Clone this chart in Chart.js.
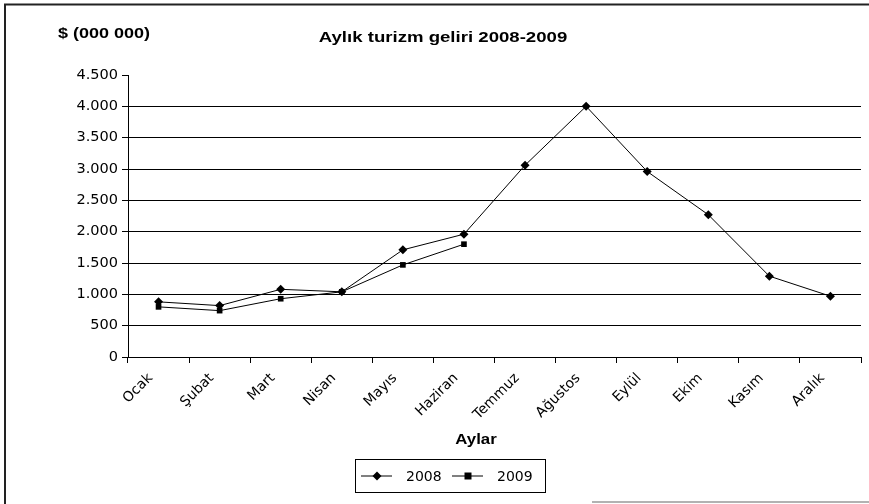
<!DOCTYPE html>
<html>
<head>
<meta charset="utf-8">
<script src="https://cdn.jsdelivr.net/npm/chart.js@4/dist/chart.umd.min.js"></script>
<style>
  html, body { margin: 0; padding: 0; background: #fff; }
  #wrap { width: 869px; height: 504px; }
</style>
</head>
<body>
<div id="wrap"><canvas id="c" width="869" height="504"></canvas></div>
<script>
// Monthly tourism revenue, $ (000 000)
const months = ['Ocak', 'Şubat', 'Mart', 'Nisan', 'Mayıs', 'Haziran', 'Temmuz', 'Ağustos', 'Eylül', 'Ekim', 'Kasım', 'Aralık'];
const revenue2008 = [880, 820, 1080, 1040, 1710, 1960, 3060, 4000, 2960, 2270, 1290, 970];
const revenue2009 = [800, 740, 930, 1040, 1470, 1800, null, null, null, null, null, null];
const seriesNames = ['2008', '2009'];
const yTicks = [0, 500, 1000, 1500, 2000, 2500, 3000, 3500, 4000, 4500];

const chartTitle = 'Aylık turizm geliri 2008-2009';
const unitLabel = '$ (000 000)';
const xTitle = 'Aylar';

const fmt = v => v.toLocaleString('de-DE');

// bold headings are drawn slightly widened
function wideText(ctx, text, x, y, align, font) {
  ctx.save();
  ctx.font = font;
  ctx.textAlign = align;
  ctx.textBaseline = 'middle';
  ctx.translate(x, y);
  ctx.scale(1.2, 1);
  ctx.fillText(text, 0, 0);
  ctx.restore();
}

// Frame, headings, axis title and the boxed legend
const decorations = {
  id: 'decorations',
  beforeDraw(chart) {
    const ctx = chart.ctx;
    ctx.save();
    ctx.fillStyle = '#fff';
    ctx.fillRect(0, 0, chart.width, chart.height);
    ctx.restore();
  },
  afterDraw(chart) {
    const ctx = chart.ctx;
    ctx.save();
    // outer frame
    ctx.strokeStyle = '#222';
    ctx.lineWidth = 2;
    ctx.beginPath();
    ctx.moveTo(5, 504); ctx.lineTo(5, 4.5); ctx.lineTo(869, 4.5);
    ctx.stroke();
    ctx.strokeStyle = '#999';
    ctx.lineWidth = 1.5;
    ctx.beginPath();
    ctx.moveTo(592, 502); ctx.lineTo(869, 502);
    ctx.stroke();

    // headings
    ctx.fillStyle = '#000';
    wideText(ctx, unitLabel, 58, 34, 'left', 'bold 15px "Liberation Sans", Arial, sans-serif');
    wideText(ctx, chartTitle, 443, 38, 'center', 'bold 15.5px "Liberation Sans", Arial, sans-serif');

    // x axis title
    wideText(ctx, xTitle, 476, 440, 'center', 'bold 14px "Liberation Sans", Arial, sans-serif');

    // legend
    const bx = 355.5, by = 459.5, bw = 190, bh = 33;
    ctx.strokeStyle = '#000';
    ctx.lineWidth = 1;
    ctx.strokeRect(bx, by, bw, bh);
    const cy = by + bh / 2;
    const items = chart.data.datasets.map((ds, i) => ({ label: ds.label, style: ds.pointStyle, x0: i === 0 ? 361 : 452 }));
    ctx.font = '14px "DejaVu Sans", sans-serif';
    ctx.textAlign = 'left';
    ctx.textBaseline = 'middle';
    items.forEach(it => {
      ctx.beginPath();
      ctx.moveTo(it.x0, cy); ctx.lineTo(it.x0 + 31, cy);
      ctx.stroke();
      const mx = it.x0 + 16;
      ctx.beginPath();
      if (it.style === 'rectRot') {
        ctx.moveTo(mx, cy - 4.5); ctx.lineTo(mx + 4.5, cy); ctx.lineTo(mx, cy + 4.5); ctx.lineTo(mx - 4.5, cy);
      } else {
        ctx.rect(mx - 3.5, cy - 3.5, 7, 7);
      }
      ctx.closePath();
      ctx.fill();
      ctx.fillText(it.label, it.x0 + 45, cy + 1);
    });
    ctx.restore();
  }
};

new Chart(document.getElementById('c'), {
  type: 'line',
  data: {
    labels: months,
    datasets: [
      {
        label: seriesNames[0],
        data: revenue2008,
        borderColor: '#000',
        backgroundColor: '#000',
        borderWidth: 1,
        pointStyle: 'rectRot',
        pointRadius: 4.5,
        pointBorderWidth: 0,
        tension: 0
      },
      {
        label: seriesNames[1],
        data: revenue2009,
        borderColor: '#000',
        backgroundColor: '#000',
        borderWidth: 1,
        pointStyle: 'rect',
        pointRadius: 4,
        pointBorderWidth: 0,
        tension: 0,
        spanGaps: false
      }
    ]
  },
  options: {
    responsive: false,
    animation: false,
    layout: { padding: { top: 75, right: 8, left: 0, bottom: 0 } },
    plugins: {
      legend: { display: false },
      title: { display: false },
      tooltip: { enabled: false }
    },
    scales: {
      x: {
        type: 'category',
        offset: true,
        grid: {
          offset: true,
          drawOnChartArea: false,
          drawTicks: true,
          tickLength: 6,
          color: '#000'
        },
        border: { color: '#000', width: 1 },
        ticks: {
          color: '#000',
          minRotation: 45,
          maxRotation: 45,
          autoSkip: false,
          padding: 7,
          labelOffset: -8,
          font: { family: '"DejaVu Sans", sans-serif', size: 14 }
        },
        afterFit(scale) { scale.height = 147; }
      },
      y: {
        min: 0,
        max: 4500,
        afterBuildTicks(scale) { scale.ticks = yTicks.map(v => ({ value: v })); },
        grid: {
          color: c => (c.tick && c.tick.value === 4500) ? 'rgba(0,0,0,0)' : '#000',
          tickColor: '#000',
          tickLength: 6,
          lineWidth: 1
        },
        border: { color: '#000', width: 1 },
        ticks: {
          color: '#000',
          padding: 4,
          font: { family: '"DejaVu Sans", sans-serif', size: 14.5 },
          callback: v => fmt(v)
        },
        afterFit(scale) { scale.width = 128; }
      }
    }
  },
  plugins: [decorations]
});
</script>
</body>
</html>
